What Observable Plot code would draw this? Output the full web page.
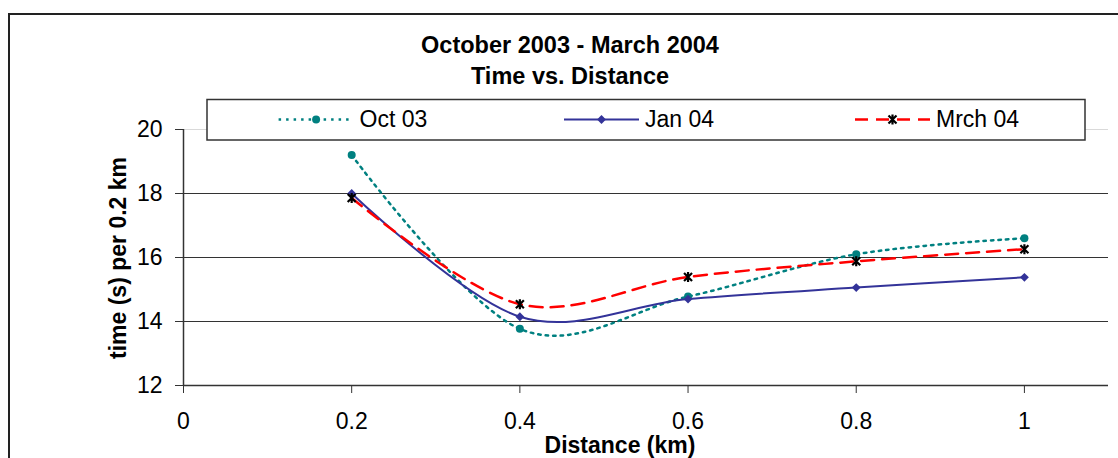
<!DOCTYPE html>
<html><head><meta charset="utf-8">
<script src="https://cdn.jsdelivr.net/npm/d3@7"></script>
<script src="https://cdn.jsdelivr.net/npm/@observablehq/plot@0.6"></script>
<style>
html,body{margin:0;padding:0;background:#fff;overflow:hidden}
#chart svg{display:block}
</style></head><body><div id="chart"></div>
<script>
const distances = [0.2, 0.4, 0.6, 0.8, 1.0];
const oct03 = [19.2, 13.77, 14.78, 16.1, 16.6];
const jan04 = [18.0, 14.15, 14.7, 15.06, 15.38];
const mrch04 = [17.86, 14.54, 15.39, 15.88, 16.26];
const seriesNames = ["Oct 03", "Jan 04", "Mrch 04"];
const xTicks = [0, 0.2, 0.4, 0.6, 0.8, 1];
const yTicks = [12, 14, 16, 18, 20];
const titleLines = ["October 2003 - March 2004", "Time vs. Distance"];
const xTitle = "Distance (km)";
const yTitle = "time (s) per 0.2 km";

const FONT = "Arial, 'Liberation Sans', sans-serif";
const rows = [];
[oct03, jan04, mrch04].forEach((vals, i) =>
  vals.forEach((v, j) => rows.push({series: seriesNames[i], d: distances[j], t: v})));
const bySeries = name => rows.filter(r => r.series === name);

// Excel-like "star" marker: an X with a vertical bar
const starSymbol = {
  draw(ctx, size) {
    const h = Math.sqrt(size / Math.PI);
    const a = h * 0.8;
    ctx.moveTo(-a, -a); ctx.lineTo(a, a);
    ctx.moveTo(a, -a); ctx.lineTo(-a, a);
    ctx.moveTo(0, -h); ctx.lineTo(0, h);
  }
};

const styles = {
  "Oct 03": {stroke: "#008080", dash: "2.5,5", width: 2.5, symbol: "circle", fill: "#008080", mstroke: "none", r: 4},
  "Jan 04": {stroke: "#333399", dash: null, width: 2, symbol: "diamond2", fill: "#333399", mstroke: "none", r: 4},
  "Mrch 04": {stroke: "#FF0000", dash: "13,8", width: 2.5, symbol: starSymbol, fill: "none", mstroke: "#000", r: 5}
};

const marks = [
  Plot.ruleY([14, 16, 18], {stroke: "#333", strokeWidth: 1}),
  Plot.ruleY([20], {stroke: "#d9d9d9", strokeWidth: 1}),
];
for (const name of seriesNames) {
  const s = styles[name];
  marks.push(Plot.line(bySeries(name), {x: "d", y: "t", curve: "cardinal", stroke: s.stroke,
    strokeWidth: s.width, strokeDasharray: s.dash ?? undefined}));
}
for (const name of seriesNames) {
  const s = styles[name];
  marks.push(Plot.dot(bySeries(name), {x: "d", y: "t", symbol: () => s.symbol, r: s.r,
    fill: s.fill, stroke: s.mstroke, strokeWidth: 2.2}));
}
marks.push(
  Plot.axisY(yTicks, {tickSize: 8, tickPadding: 13, fontSize: 23, label: null, stroke: "#333"}),
  Plot.axisX(xTicks, {tickSize: 8, tickPadding: 19, fontSize: 23, label: null, stroke: "#333",
    tickFormat: d => String(d)}),
  Plot.ruleX([0], {y1: 12, y2: 20, stroke: "#333", strokeWidth: 1.5}),
  Plot.ruleY([12], {stroke: "#333", strokeWidth: 1.5})
);

const chart = Plot.plot({
  width: 1118, height: 458,
  marginLeft: 183, marginTop: 129, marginBottom: 73, marginRight: 10,
  x: {domain: [0, 1.1]},
  y: {domain: [12, 20]},
  symbol: {type: "identity"},
  style: {fontFamily: FONT, fontSize: "23px", background: "#fff", color: "#000"},
  marks
});
document.getElementById("chart").appendChild(chart);

const svg = d3.select(chart);
// outer chart frame (cropped at right and bottom)
svg.append("rect").attr("x", 9).attr("y", 14).attr("width", 1300).attr("height", 700)
  .attr("fill", "none").attr("stroke", "#222").attr("stroke-width", 2);

// titles
svg.append("text").attr("x", 570).attr("y", 52.5).attr("text-anchor", "middle")
  .attr("font-weight", "bold").attr("font-size", 23.5).attr("font-family", FONT).text(titleLines[0]);
svg.append("text").attr("x", 570).attr("y", 83.5).attr("text-anchor", "middle")
  .attr("font-weight", "bold").attr("font-size", 23.5).attr("font-family", FONT).text(titleLines[1]);

// axis titles
svg.append("text").attr("transform", "translate(126,258) rotate(-90)").attr("text-anchor", "middle")
  .attr("font-weight", "bold").attr("font-size", 23).attr("font-family", FONT).text(yTitle);
svg.append("text").attr("x", 620).attr("y", 453).attr("text-anchor", "middle")
  .attr("font-weight", "bold").attr("font-size", 23).attr("font-family", FONT).text(xTitle);

// legend
const lg = svg.append("g");
lg.append("rect").attr("x", 207).attr("y", 99.5).attr("width", 878).attr("height", 40.5)
  .attr("fill", "#fff").attr("stroke", "#333").attr("stroke-width", 1.5);
const legendX = [278.6, 564, 855];
const ly = 119.5;
seriesNames.forEach((name, i) => {
  const s = styles[name];
  const x0 = legendX[i], x1 = x0 + 75;
  lg.append("line").attr("x1", x0).attr("x2", x1).attr("y1", ly).attr("y2", ly)
    .attr("stroke", s.stroke).attr("stroke-width", s.width)
    .attr("stroke-dasharray", s.dash ?? null);
  const sym = typeof s.symbol === "string"
    ? (s.symbol === "circle" ? d3.symbolCircle : d3.symbolDiamond2) : s.symbol;
  lg.append("path").attr("transform", `translate(${(x0 + x1) / 2},${ly})`)
    .attr("d", d3.symbol(sym, Math.PI * s.r * s.r)())
    .attr("fill", s.fill).attr("stroke", s.mstroke === "none" ? null : s.mstroke).attr("stroke-width", 2.2);
  lg.append("text").attr("x", x1 + 6).attr("y", 127).attr("text-anchor", "start")
    .attr("font-size", 23).attr("font-family", FONT).text(name);
});
</script></body></html>
